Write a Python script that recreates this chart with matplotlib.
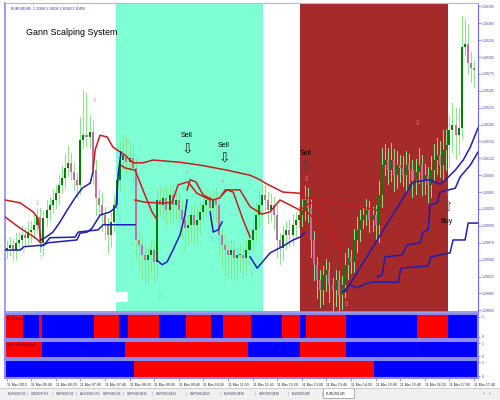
import matplotlib
matplotlib.use('Agg')
import matplotlib.pyplot as plt
from matplotlib.patches import Rectangle

# ---- candles (EURUSD M5) ----
first_open = 1.29962
closes = [
    1.29966, 1.29971, 1.29962, 1.29975, 1.29980, 1.29989, 1.29984, 1.29994, 1.29998, 1.30007,
    1.30021, 1.29975, 1.30019, 1.30033, 1.30042, 1.30051, 1.30063, 1.30078, 1.30090, 1.30108,
    1.30117, 1.30101, 1.30087, 1.30078, 1.30158, 1.30166, 1.30163, 1.30172, 1.30104, 1.30055,
    1.30042, 1.30024, 1.30007, 1.29989, 1.30012, 1.30042, 1.30087, 1.30122, 1.30131, 1.30118,
    1.30126, 1.30108, 1.29980, 1.29971, 1.29953, 1.29944, 1.29953, 1.29962, 1.29941, 1.30051,
    1.30042, 1.30055, 1.30033, 1.30060, 1.30042, 1.30051, 1.30033, 1.30016, 1.30001, 1.30007,
    1.30024, 1.30007, 1.30016, 1.30030, 1.30042, 1.30051, 1.30037, 1.30051, 1.30042, 1.29989,
    1.29971, 1.29962, 1.29953, 1.29962, 1.29948, 1.29953, 1.29953, 1.29948, 1.29962, 1.29980,
    1.29998, 1.30024, 1.30042, 1.30060, 1.30051, 1.30033, 1.30042, 1.30024, 1.29980, 1.29966,
    1.29989, 1.29998, 1.29989, 1.30007, 1.30016, 1.30024, 1.30033, 1.30051, 1.30037, 1.29980,
    1.29936, 1.29909, 1.29891, 1.29918, 1.29927, 1.29900, 1.29891, 1.29909, 1.29882, 1.29900,
    1.29936, 1.29948, 1.29941, 1.29980, 1.29998, 1.30016, 1.30024, 1.30033, 1.30016, 1.30024,
    1.30007, 1.30060, 1.30113, 1.30122, 1.30104, 1.30122, 1.30095, 1.30113, 1.30108, 1.30095,
    1.30113, 1.30104, 1.30087, 1.30101, 1.30113, 1.30087, 1.30095, 1.30078, 1.30104, 1.30122,
    1.30131, 1.30113, 1.30140, 1.30149, 1.30175, 1.30184, 1.30166, 1.30179, 1.30323, 1.30328,
    1.30294, 1.30285, 1.30282,
]
# wick lengths in points (0.00001)
upper_wick = [
    12, 15, 10, 18, 14, 16, 12, 20, 15, 18,
    14, 16, 12, 18, 15, 20, 14, 18, 22, 25,
    30, 18, 15, 12, 40, 80, 75, 30, 20, 18,
    15, 22, 14, 12, 16, 20, 25, 35, 38, 30,
    25, 20, 18, 16, 14, 20, 15, 18, 12, 22,
    25, 18, 20, 15, 22, 18, 15, 20, 14, 18,
    16, 20, 22, 18, 25, 20, 15, 18, 22, 16,
    14, 18, 12, 20, 15, 14, 18, 12, 16, 20,
    18, 22, 25, 20, 18, 15, 20, 14, 18, 12,
    16, 15, 18, 20, 14, 16, 20, 25, 22, 18,
    16, 14, 18, 15, 20, 14, 12, 18, 15, 16,
    20, 18, 15, 20, 22, 18, 15, 20, 16, 14,
    18, 25, 30, 28, 22, 30, 20, 25, 18, 22,
    25, 20, 18, 22, 30, 18, 20, 15, 25, 28,
    30, 25, 35, 28, 25, 40, 30, 35, 55, 45,
    35, 20, 15,
]
lower_wick = [
    14, 12, 18, 15, 10, 16, 14, 12, 18, 15,
    12, 16, 20, 14, 18, 12, 15, 20, 14, 18,
    15, 12, 18, 22, 16, 14, 18, 20, 25, 30,
    22, 28, 25, 30, 20, 18, 15, 20, 18, 22,
    16, 25, 35, 40, 45, 38, 42, 30, 35, 28,
    20, 25, 30, 22, 28, 25, 32, 35, 40, 30,
    28, 35, 30, 25, 20, 22, 25, 18, 30, 35,
    40, 45, 38, 42, 35, 40, 30, 35, 28, 25,
    22, 18, 20, 25, 18, 22, 20, 25, 30, 28,
    22, 25, 20, 18, 22, 15, 20, 18, 25, 30,
    28, 32, 30, 25, 28, 30, 35, 28, 30, 25,
    22, 25, 20, 18, 22, 20, 15, 18, 22, 20,
    25, 30, 22, 18, 25, 20, 28, 22, 25, 20,
    28, 22, 30, 25, 20, 28, 25, 30, 22, 20,
    25, 22, 28, 35, 40, 38, 42, 35, 20, 15,
    20, 25, 30,
]

# ---- Gann HiLo lines: segments (bar index, price), colour per segment ----
line_a_x = [
    [-0.5, 4.4, 8.6, 10.2, 11.2],
    [11.2, 12.8, 15.1, 17.4, 19.7, 22.3, 24.6, 27.2, 28.1],
    [28.1, 28.8, 30.4, 32.7, 34.6, 35.9, 38.5, 41.1, 44.4, 47.6, 56.4, 62.9, 71.7, 79.2,
     82.4, 84.1, 89.9, 95.4, 96.4, 106.2, 114.9, 120.5],
    [120.5, 122.1, 123.1, 128.6, 130.2, 134.5, 135.4, 137.1, 137.7, 140.0, 141.0, 145.9,
     147.5, 150.8, 153.3],
]
line_a_y = [
    [1.30051, 1.30046, 1.30030, 1.30019, 1.29980],
    [1.29980, 1.29985, 1.29994, 1.30012, 1.30033, 1.30055, 1.30072, 1.30081, 1.30101],
    [1.30101, 1.30140, 1.30166, 1.30163, 1.30145, 1.30140, 1.30131, 1.30117, 1.30117, 1.30122,
     1.30118, 1.30113, 1.30104, 1.30095, 1.30087, 1.30081, 1.30065, 1.30063, 1.30056, 1.30046,
     1.30039, 1.30033],
    [1.29914, 1.29918, 1.29950, 1.29953, 1.29971, 1.29975, 1.29994, 1.29998, 1.30042, 1.30046,
     1.30065, 1.30072, 1.30092, 1.30113, 1.30136],
]
line_a_c = ['r', 'b', 'r', 'b']

line_b_x = [
    [-0.5, 4.4, 9.3, 11.2],
    [11.2, 13.5, 22.9, 23.9, 26.2, 27.8, 30.4, 33.7, 35.6, 36.3, 37.2],
    [37.2, 38.5, 41.8, 45.0, 47.3, 48.9],
    [48.9, 50.6, 52.2, 54.1, 56.4, 58.0, 58.7],
    [58.7, 59.7, 61.6, 63.9, 67.2, 69.4, 71.1, 75.9, 79.2, 83.1, 85.7, 88.9, 92.2, 95.4,
     98.7, 101.3, 105.2, 109.4],
    [110.1, 132.2, 137.7, 141.0, 143.3, 145.9, 148.5, 150.8, 153.3],
]
line_b_y = [
    [1.30021, 1.30001, 1.29984, 1.29975],
    [1.29969, 1.29975, 1.29980, 1.29992, 1.29994, 1.30001, 1.30024, 1.30030, 1.30039, 1.30095,
     1.30136],
    [1.30113, 1.30108, 1.30104, 1.30060, 1.30030, 1.30016],
    [1.29944, 1.29936, 1.29941, 1.29962, 1.29989, 1.30024, 1.30051],
    [1.30069, 1.30087, 1.30083, 1.30060, 1.30051, 1.30055, 1.30069, 1.30069, 1.30039, 1.30026,
     1.30030, 1.30051, 1.30042, 1.30033, 1.30046, 1.30042, 1.30007, 1.29968],
    [1.29888, 1.30083, 1.30087, 1.30079, 1.30090, 1.30104, 1.30122, 1.30145, 1.30179],
]
line_b_c = ['r', 'b', 'r', 'b', 'r', 'b']

line_c_x = [
    [-0.5, 4.4, 5.7, 12.2, 14.1, 22.3, 23.3, 29.8, 31.4, 41.8],
    [41.8, 45.0, 48.9, 53.8, 55.8, 59.0, 61.9, 66.2],
    [66.2, 67.2, 68.8, 70.1],
    [70.1, 71.7, 73.7, 76.9, 79.2],
    [79.2, 81.5, 85.7, 89.6, 93.2, 95.4, 97.1],
    [97.1, 99.4, 104.2, 108.5],
    [109.4, 111.7, 114.0, 116.6, 118.9, 127.3, 128.3, 137.1, 138.0, 144.2, 145.2, 149.1,
     150.1, 153.3],
]
line_c_y = [
    [1.29962, 1.29962, 1.29968, 1.29971, 1.29984, 1.29985, 1.29994, 1.29998, 1.30007, 1.30007],
    [1.30051, 1.30047, 1.30046, 1.30046, 1.30078, 1.30083, 1.30063, 1.30051],
    [1.30030, 1.29994, 1.29998, 1.30012],
    [1.30060, 1.30069, 1.30065, 1.30016, 1.29985],
    [1.29950, 1.29930, 1.29957, 1.29968, 1.29980, 1.29985, 1.29994],
    [1.30033, 1.30021, 1.29998, 1.29962],
    [1.29888, 1.29900, 1.29895, 1.29902, 1.29905, 1.29905, 1.29930, 1.29934, 1.29950, 1.29957,
     1.29980, 1.29980, 1.30010, 1.30010],
]
line_c_c = ['b', 'r', 'b', 'r', 'b', 'r', 'b']

# ---- signal arrows ----
dn_small_x = [10.2, 28.5, 39.5, 58.4, 70.4, 97.7, 133.8]
dn_small_y = [1.30046, 1.30229, 1.30154, 1.30099, 1.30085, 1.30087, 1.30188]
up_small_x = [5.4, 11.5, 36.6, 49.6, 66.8, 79.8, 110.7, 143.3]
up_small_y = [1.29959, 1.29948, 1.30019, 1.29877, 1.29980, 1.29918, 1.29866, 1.30063]
sig_text = ['Sell', 'Sell', 'Sell', 'Buy']
sig_x = [58.7, 70.7, 97.3, 143.2]
sig_arrow_y = [1.30143, 1.30127, 1.30113, 1.30039]
sig_text_y = [1.30166, 1.30147, 1.30134, 1.30012]

# ---- signal panels: block right edges (bar units), alternating colours ----
panel1_ends = [5.5, 10.5, 11.5, 28.5, 36.5, 39.5, 49.5, 58.5, 66.5, 70.5, 79.5, 89.5,
               95.5, 97.5, 110.5, 133.5, 143.5, 153.3]
panel1_first = 'red'
panel2_ends = [11.5, 38.5, 78.5, 95.5, 110.5, 153.3]
panel2_first = 'red'
panel3_ends = [41.5, 119.5, 153.3]
panel3_first = 'blue'

time_labels = ['11 Mar 2013', '11 Mar 05:40', '11 Mar 06:20', '11 Mar 07:00', '11 Mar 07:40',
               '11 Mar 08:20', '11 Mar 09:00', '11 Mar 09:40', '11 Mar 10:20', '11 Mar 11:00',
               '11 Mar 11:40', '11 Mar 12:20', '11 Mar 13:00', '11 Mar 13:40', '11 Mar 14:20',
               '11 Mar 15:00', '11 Mar 15:40', '11 Mar 16:20', '11 Mar 17:00', '11 Mar 17:40']
time_bars = [0, 8, 16, 24, 32, 40, 48, 56, 64, 72, 80, 88, 96, 104, 112, 120, 128, 136, 144, 152]
price_ticks = [1.30395, 1.30365, 1.30335, 1.30305, 1.30275, 1.30245, 1.30215, 1.30185, 1.30155,
               1.30125, 1.30095, 1.30065, 1.30035, 1.30005, 1.29975, 1.29945, 1.29915, 1.29885,
               1.29855]
tabs = ['EURUSD,H1', 'USDCHF,H1', 'GBPUSD,H1', 'AUDUSD,H1', 'GBPUSD,H1', 'GBPUSD,M15',
        'GBPUSD,M15', 'GBPUSD,M15', 'EURUSD,M30', 'GBPUSD,M30', 'EURUSD,M5', 'EURUSD,M5']

SMALL = ['Liberation Sans', 'DejaVu Sans']
RED_LINE = '#C41E1E'
BLUE_LINE = '#1E1EB0'
FRAME = '#8C8CF0'
XMIN, XMAX = -0.5, 153.3

fig = plt.figure(figsize=(5, 4), dpi=100)
fig.patch.set_facecolor('white')

ax = fig.add_axes([0.01, 0.22, 0.946, 0.7725])
ax.set_xlim(XMIN, XMAX)
ax.set_ylim(1.29852, 1.30401)
ax.axvspan(35.5, 83.5, color='#7FFFD4', lw=0, zorder=0)
ax.axvspan(95.5, 143.5, color='#A52A2A', lw=0, zorder=0)
ax.add_patch(Rectangle((XMIN, 1.29870), 40.0, 0.00018, color='white', lw=0, zorder=0.5))

opens = [first_open] + closes[:-1]
for i, (o, c) in enumerate(zip(opens, closes)):
    hi = max(o, c) + upper_wick[i] * 1e-5
    lo = min(o, c) - lower_wick[i] * 1e-5
    ax.plot([i, i], [lo, hi], color='#86E886', lw=0.7, zorder=2)
    col = '#008000' if c >= o else '#C070A0'
    ax.add_patch(Rectangle((i - 0.33, min(o, c)), 0.66, max(abs(c - o), 0.000015),
                           facecolor=col, lw=0, zorder=3))

for xs_list, ys_list, cs in [(line_a_x, line_a_y, line_a_c), (line_b_x, line_b_y, line_b_c),
                             (line_c_x, line_c_y, line_c_c)]:
    for xs, ys, c in zip(xs_list, ys_list, cs):
        ax.plot(xs, ys, color=RED_LINE if c == 'r' else BLUE_LINE, lw=1.1, zorder=4)

for x, y in zip(dn_small_x, dn_small_y):
    ax.text(x, y, '\u21e9', color='#E88A9A', fontsize=4.5, ha='center', va='center', zorder=5)
for x, y in zip(up_small_x, up_small_y):
    ax.text(x, y, '\u21e7', color='#6FC3E8', fontsize=4.5, ha='center', va='center', zorder=5)
for k, (t, x) in enumerate(zip(sig_text, sig_x)):
    arrow = '\u21e7' if t == 'Buy' else '\u21e9'
    col = '#222222' if k < 2 else '#5A3A3A'
    ax.text(x, sig_arrow_y[k], arrow, color=col, fontsize=10, ha='center', va='center', zorder=5)
    ax.text(x, sig_text_y[k], t, color='black', fontsize=5, family=SMALL,
            ha='center', va='center', zorder=5)

ax.text(0.045, 0.905, 'Gann Scalping System', transform=ax.transAxes, fontsize=6.4,
        family=SMALL, color='black', ha='left', va='center')
ax.text(0.012, 0.988, 'EURUSD,M5  1.30388 1.30408 1.30383 1.30408', transform=ax.transAxes,
        fontsize=2.4, family=SMALL, color='#3030A0', ha='left', va='top')

ax.set_xticks([])
ax.yaxis.tick_right()
ax.set_yticks(price_ticks)
ax.set_yticklabels(['%.5f' % p for p in price_ticks], fontsize=2.6, family=SMALL)
ax.tick_params(axis='y', length=2, width=0.5, pad=1, colors='#6A6AE8', labelcolor='#4848B0')
for side in ['left', 'bottom']:
    ax.spines[side].set_color(FRAME)
    ax.spines[side].set_linewidth(1.2)
ax.spines['top'].set_color('#B8B8C8')
ax.spines['right'].set_color('#6A6AE8')

panel_specs = [
    ([0.01, 0.1525, 0.946, 0.0625], panel1_ends, panel1_first, 'M5 EURUSD'),
    ([0.01, 0.105, 0.946, 0.0425], panel2_ends, panel2_first, 'M15 EURUSD (bars)'),
    ([0.01, 0.055, 0.946, 0.045], panel3_ends, panel3_first, ''),
]
panel_axes = []
for rect, ends, first, label in panel_specs:
    pa = fig.add_axes(rect)
    pa.set_xlim(XMIN, XMAX)
    pa.set_ylim(0, 1)
    start = XMIN
    color = first
    for end in ends:
        pa.axvspan(start, end, color='#FF0000' if color == 'red' else '#0000FF', lw=0)
        start = end
        color = 'blue' if color == 'red' else 'red'
    if label:
        pa.text(0.004, 0.88, label, transform=pa.transAxes, fontsize=2.2, family=SMALL,
                color='#301040', ha='left', va='top')
    pa.yaxis.tick_right()
    pa.set_yticks([0.1, 0.88])
    pa.set_yticklabels(['0', '1'], fontsize=2.6, family=SMALL)
    pa.tick_params(axis='y', length=1.5, width=0.5, pad=1, colors='#6A6AE8', labelcolor='#4848B0')
    pa.set_xticks([])
    for s in pa.spines.values():
        s.set_color(FRAME)
        s.set_linewidth(1.5)
    panel_axes.append(pa)

pb = panel_axes[-1]
pb.set_xticks(time_bars)
pb.set_xticklabels(time_labels, fontsize=2.5, family=SMALL, ha='left')
pb.tick_params(axis='x', length=2, width=0.5, pad=1.5, colors='#6A6AE8', labelcolor='#202040')

# terminal tab bar
fig.patches.append(Rectangle((0, 0), 1, 0.03, transform=fig.transFigure, facecolor='#F0F0F0',
                             edgecolor='none', zorder=0))
fig.add_artist(plt.Line2D([0, 1], [0.03, 0.03], transform=fig.transFigure, color='#C8C8C8', lw=0.6))
tab_left = [5, 28, 53, 77, 100, 124, 153, 187, 221, 256, 289, 323, 352]
for k, t in enumerate(tabs):
    x0 = tab_left[k]
    if k == len(tabs) - 1:
        fig.patches.append(Rectangle((x0 / 500, 0.004), 31 / 500, 0.026, transform=fig.transFigure,
                                     facecolor='white', edgecolor='#909090', lw=0.5))
        fig.text((x0 + 3) / 500, 0.016, t, fontsize=2.4, family=SMALL, color='#202020',
                 ha='left', va='center')
    else:
        fig.text((x0 + 3) / 500, 0.016, t, fontsize=2.3, family=SMALL, color='#404060',
                 ha='left', va='center')
        fig.text((tab_left[k + 1] - 1) / 500, 0.016, '|', fontsize=3, color='#909090',
                 ha='center', va='center')
fig.text(0.966, 0.016, '\u2039  \u203a', fontsize=4, color='#606060', ha='left', va='center')

fig.savefig('out.png', dpi=100)
